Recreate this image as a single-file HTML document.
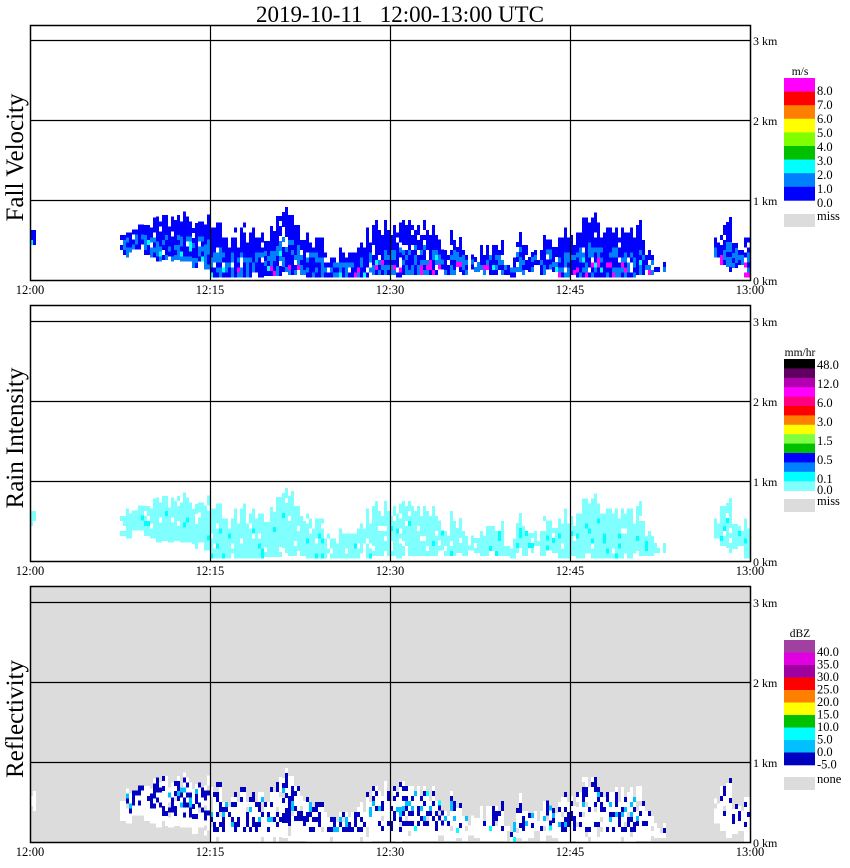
<!DOCTYPE html>
<html><head><meta charset="utf-8">
<style>
html,body{margin:0;padding:0;background:#fff;}
svg{display:block;}
text{font-family:"Liberation Serif",serif;fill:#000;}
</style></head>
<body>
<svg id="chart" width="850" height="868" viewBox="0 0 850 868" xmlns="http://www.w3.org/2000/svg">
<text x="400" y="22" font-size="23" text-anchor="middle" style="white-space:pre" xml:space="preserve">2019-10-11   12:00-13:00 UTC</text>
</svg>
<script>
// time (minutes after 12:00, start of each 30 s column)
const times = [];
for (let k = 0; k < 120; k++) times.push(k * 0.5);
// echo top height per column (km), 0 = no echo
const echoTop = [0.62,0,0,0,0,0,0,0,0,0,0,0,0,0,0,0.66,0.71,0.68,0.75,0.69,0.78,0.75,0.78,0.80,0.81,0.83,0.78,0.75,0.73,0.78,
0.75,0.69,0.63,0.53,0.60,0.68,0.56,0.65,0.73,0.56,0.69,0.81,0.94,0.88,0.69,0.63,0.60,0.53,0.50,0.44,0.38,0.35,0.38,0.44,0.48,0.50,0.60,0.69,0.65,0.73,
0.65,0.69,0.75,0.69,0.73,0.69,0.65,0.65,0.50,0.38,0.60,0.53,0.44,0.31,0.38,0.40,0.53,0.44,0.50,0.31,0.25,0.60,0.53,0.38,0.38,0.50,0.60,0.44,0.56,0.63,
0.53,0.69,0.78,0.81,0.81,0.69,0.75,0.69,0.65,0.65,0.63,0.69,0.50,0.38,0.31,0.19,0.15,0,0,0,0,0,0,0,0.50,0.69,0.75,0.56,0.44,0.63,0.78,0.96];
// echo bottom height per column (km)
const echoBottom = [0.44,0,0,0,0,0,0,0,0,0,0,0,0,0,0,0.31,0.28,0.38,0.38,0.31,0.28,0.23,0.25,0.23,0.25,0.23,0.23,0.15,0.23,0.13,
0.03,0.03,0.03,0.03,0.03,0.03,0.03,0.03,0.03,0.05,0.05,0.05,0.10,0.06,0.06,0.06,0.03,0.03,0.03,0.03,0.03,0.03,0.03,0.03,0.03,0.03,0.03,0.06,0.06,0.06,
0.06,0.03,0.06,0.06,0.06,0.06,0.06,0.06,0.13,0.06,0.06,0.10,0.06,0.13,0.10,0.06,0.06,0.06,0.06,0.06,0.03,0.10,0.06,0.10,0.19,0.06,0.13,0.10,0.03,0.03,
0.06,0.03,0.03,0.03,0.03,0.03,0.03,0.03,0.03,0.03,0.03,0.06,0.06,0.06,0.10,0.10,0.10,0,0,0,0,0,0,0,0.28,0.19,0.10,0.15,0.19,0.03,0.03,0.03];
const timeTicks = ["12:00","12:15","12:30","12:45","13:00"];
const tickMinutes = [0,15,30,45,60];
const kmTicks = [0,1,2,3];
const panelTitles = ["Fall Velocity","Rain Intensity","Reflectivity"];
const velLabels = ["8.0","7.0","6.0","5.0","4.0","3.0","2.0","1.0","0.0"];
const rainLabels = ["48.0","12.0","6.0","3.0","1.5","0.5","0.1","0.0"];
const dbzLabels = ["40.0","35.0","30.0","25.0","20.0","15.0","10.0","5.0","0.0","-5.0"];

const NS = "http://www.w3.org/2000/svg";
const svg = document.getElementById("chart");
const X0 = 30, X1 = 750;
const xs = m => X0 + (X1 - X0) * m / 60;
const panels = [{top:25, base:280},{top:305, base:561},{top:586, base:842}];
function mk(tag, attrs, parent){const e=document.createElementNS(NS,tag);for(const k in attrs)e.setAttribute(k,attrs[k]);(parent||svg).appendChild(e);return e;}
// texture hash (styling only)
function hsh(a,b,c){
  let v = (Math.imul(a+1, 374761393) + Math.imul(b+7, 668265263) + Math.imul(c+3, 1274126177)) | 0;
  v = Math.imul(v ^ (v >>> 15), 2246822519);
  v = Math.imul(v ^ (v >>> 13), 3266489917);
  v ^= v >>> 16;
  return (v >>> 0) % 100;
}

panels.forEach((p, pi) => {
  const ys = km => p.base - km * 80;
  const g = mk("g", {});
  
  
  const bg = mk("rect", {x:X0, y:p.top, width:X1-X0, height:p.base-p.top, fill: pi===2 ? "#dcdcdc" : "#fff"}, g);
  
  
  const cells = mk("g", {"shape-rendering":"crispEdges"}, g);
  
  
  for (let i = 0; i < times.length; i++) {
    const t = echoTop[i], b = echoBottom[i];
    if (t <= 0) continue;
    for (let sub = 0; sub < 2; sub++) {
      const x = xs(times[i] + sub * 0.25);
      const w = xs(0.25) - xs(0);
      const colTop = t - (hsh(i,sub,9) % 4) * 0.05;
      const bot = pi === 2 ? Math.max(0, b - 0.05) : b;
      let j = 0;
      for (let h = bot; h < colTop; h += 0.0625, j++) {
        const frac = (h - b) / Math.max(0.01, t - b);
        const n = hsh(i, j, sub + pi*3);
        let c;
        if (pi === 0) {
          if (n < 8) continue;
          c = frac > 0.5 ? "#0000ff" : (n < 55 ? "#0000ff" : "#0080ff");
          if (frac < 0.25 && n > 90 && i > 30) c = "#ff00ff";
          else if (frac < 0.35 && n > 86 && n <= 90) c = "#00ffff";
        } else if (pi === 1) {
          if (n < 8) continue;
          c = (frac < 0.6 && n > 92) ? "#00ffff" : "#80ffff";
        } else {
          if (n < 5) continue;
          if (n < 62) c = "#ffffff";
          else if (frac > 0.25 && frac < 0.8 && n > 90) c = "#00c0ff";
          else if (n > 98) c = "#00ffff";
          else if (frac < 0.12) c = "#ffffff";
          else c = "#0000c0";
        }
        const r = mk("rect", {x:x, y:ys(h + 0.0625), width:w, height:5, fill:c}, cells);
        
        
      }
    }
  }
  kmTicks.forEach(k => {
    if (k === 0) return;
    const l = mk("line", {x1:X0, x2:X1, y1:ys(k)+0.5, y2:ys(k)+0.5, stroke:"#000", "stroke-width":1.2}, g);
    
    
  });
  tickMinutes.forEach(m => {
    if (m === 0 || m === 60) return;
    const l = mk("line", {x1:xs(m)+0.5, x2:xs(m)+0.5, y1:p.top, y2:p.base, stroke:"#000", "stroke-width":1.2}, g);
    
    
  });
  const fr = mk("rect", {x:X0+0.5, y:p.top+0.5, width:X1-X0, height:p.base-p.top, fill:"none", stroke:"#000", "stroke-width":1.5}, g);
  
  
  kmTicks.forEach(k => {
    const tx = mk("text", {x:753, y:ys(k)+5, "font-size":12}, g);
    tx.textContent = k + " km";
    
    
  });
  tickMinutes.forEach((m, ti) => {
    const tx = mk("text", {x:xs(m), y:p.base+14, "font-size":12.5, "text-anchor":"middle"}, g);
    tx.textContent = timeTicks[ti];
    
    
  });
  const mid = (p.top + p.base) / 2 + 5;
  const pt = mk("text", {x:0, y:0, "font-size":25, "text-anchor":"middle", transform:`translate(23,${mid}) rotate(-90)`}, g);
  pt.textContent = panelTitles[pi];
  
  
});

function legend(top, colors, h, labels, labelStart, labelStep, unit, missY, missText, pi){
  const g = mk("g", {});
  
  
  const u = mk("text", {x:800, y:top-3, "font-size":11.5, "text-anchor":"middle"}, g);
  u.textContent = unit;
  
  
  colors.forEach((c, k) => {
    const r = mk("rect", {x:784, y:top + k*h, width:31, height:h+0.3, fill:c}, g);
    
    
  });
  labels.forEach((lb, k) => {
    const t = mk("text", {x:817, y:labelStart + k*labelStep, "font-size":12.5}, g);
    t.textContent = lb;
    
    
  });
  const m = mk("rect", {x:784, y:missY, width:31, height:13, fill:"#dcdcdc"}, g);
  
  
  const mt = mk("text", {x:817, y:missY+6, "font-size":12.5}, g);
  mt.textContent = missText;
  
  
}
legend(78, ["#ff00ff","#ff0000","#ff8000","#ffff00","#80ff00","#00c000","#00ffff","#0080ff","#0000ff"], 13.6, velLabels, 95, 14, "m/s", 214, "miss", 0);
legend(359, ["#000000","#600060","#b000b0","#ff00ff","#ff0080","#ff0000","#ff8000","#ffff00","#80ff40","#00c000","#0000ff","#0080ff","#00ffff","#80ffff"], 9.4, rainLabels.slice(0,7), 369, 19, "mm/hr", 499, "miss", 1);
const z = mk("text", {x:817, y:494, "font-size":12.5}); z.textContent = rainLabels[7];


legend(640, ["#a040a0","#e000e0","#a000a0","#ff0000","#ff8000","#ffff00","#00c000","#00ffff","#00c0ff","#0000c0"], 12.5, dbzLabels, 656, 12.5, "dBZ", 777, "none", 2);
</script>
</body></html>
